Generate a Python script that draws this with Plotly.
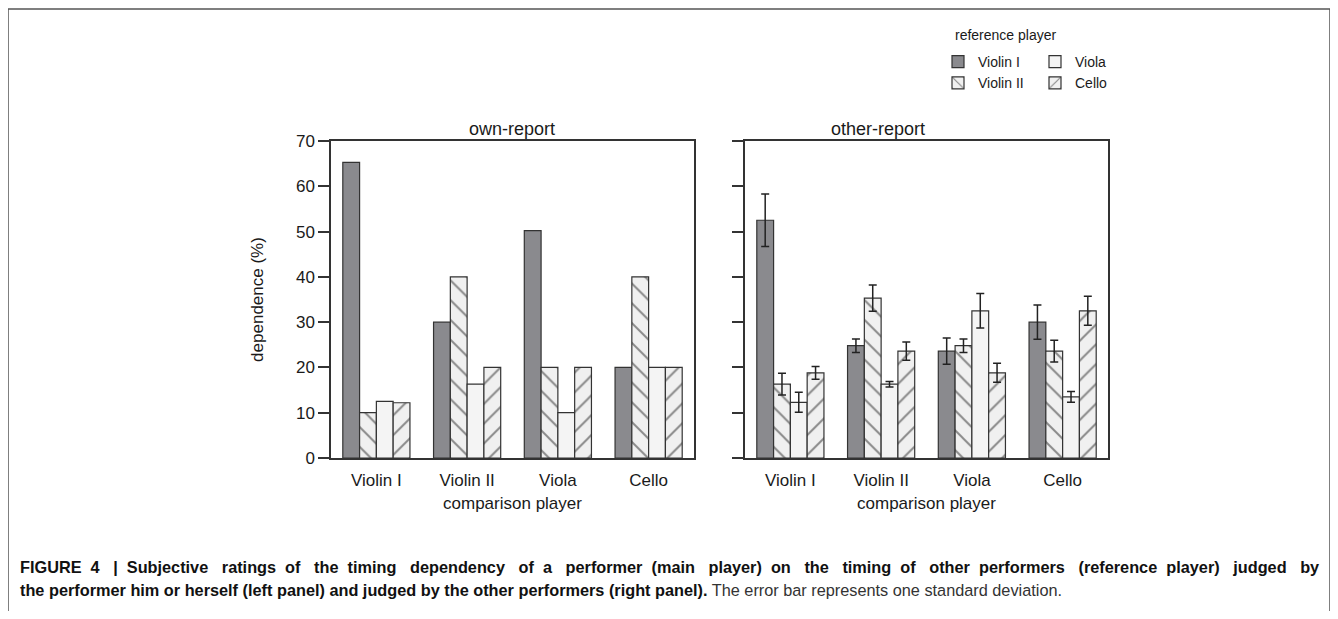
import plotly.graph_objects as go

# comparison players (x categories) and reference players (series)
players = ["Violin I", "Violin II", "Viola", "Cello"]

# own-report, dependence (%) per reference player
own_violin1 = [65.3, 30.0, 50.2, 20.0]
own_violin2 = [10.0, 40.0, 20.0, 40.0]
own_viola = [12.5, 16.3, 10.0, 20.0]
own_cello = [12.2, 20.0, 20.0, 20.0]

# other-report, mean dependence (%) and standard deviation
oth_violin1 = [52.5, 24.8, 23.6, 30.0]
oth_violin2 = [16.3, 35.3, 24.8, 23.6]
oth_viola = [12.3, 16.3, 32.5, 13.5]
oth_cello = [18.8, 23.6, 18.8, 32.5]
sd_violin1 = [5.8, 1.5, 2.9, 3.8]
sd_violin2 = [2.4, 2.9, 1.5, 2.4]
sd_viola = [2.2, 0.6, 3.8, 1.2]
sd_cello = [1.4, 2.0, 2.1, 3.2]

y_ticks = [0, 10, 20, 30, 40, 50, 60, 70]

# page is 1338x619, body margin 8px -> figure sits at (8, 8)
W, H = 1322, 603
OFF = 8
FONT = "Arial, Liberation Sans, sans-serif"
LINE = "#333333"

styles = {
    "Violin I": dict(color="#8a8a8e", pattern=dict(shape="")),
    "Violin II": dict(color="#f0f0f0", pattern=dict(shape="\\", fgcolor="#222222", size=14, solidity=0.14)),
    "Viola": dict(color="#f4f4f4", pattern=dict(shape="")),
    "Cello": dict(color="#f0f0f0", pattern=dict(shape="/", fgcolor="#222222", size=14, solidity=0.14)),
}

own = {"Violin I": own_violin1, "Violin II": own_violin2, "Viola": own_viola, "Cello": own_cello}
oth = {"Violin I": oth_violin1, "Violin II": oth_violin2, "Viola": oth_viola, "Cello": oth_cello}
sds = {"Violin I": sd_violin1, "Violin II": sd_violin2, "Viola": sd_viola, "Cello": sd_cello}
legend_of = {"Violin I": "legend", "Violin II": "legend", "Viola": "legend2", "Cello": "legend2"}


def fx(v):
    # page x pixel -> paper fraction
    return (v - OFF) / W


def fy(v):
    # page y pixel -> paper fraction
    return 1 - (v - OFF) / H


fig = go.Figure()

for name in players:
    st = styles[name]
    fig.add_trace(go.Bar(
        x=players, y=own[name], name=name,
        marker=dict(color=st["color"], pattern=st["pattern"], line=dict(color=LINE, width=1.2)),
        xaxis="x", yaxis="y", legend=legend_of[name], showlegend=True,
    ))

for name in players:
    st = styles[name]
    fig.add_trace(go.Bar(
        x=players, y=oth[name], name=name,
        marker=dict(color=st["color"], pattern=st["pattern"], line=dict(color=LINE, width=1.2)),
        error_y=dict(type="data", array=sds[name], color="#222222", thickness=1.5, width=4),
        xaxis="x2", yaxis="y2", showlegend=False,
    ))

left_dom = [fx(331), fx(694)]
right_dom = [fx(745), fx(1108)]
y_dom = [fy(458), fy(141)]

axis_common = dict(showline=True, linecolor=LINE, linewidth=1.5, mirror=True,
                   showgrid=False, zeroline=False)
xaxis_common = dict(ticks="", tickfont=dict(size=17), ticklabelstandoff=6,
                    title=dict(text="comparison player", font=dict(size=17), standoff=8),
                    **axis_common)

fig.update_layout(
    width=W, height=H,
    margin=dict(l=0, r=0, t=0, b=0, autoexpand=False),
    paper_bgcolor="white", plot_bgcolor="white",
    font=dict(family=FONT, color="#1a1a1a", size=17),
    barmode="group", bargap=0.26, bargroupgap=0,
    xaxis=dict(domain=left_dom, anchor="y", **xaxis_common),
    yaxis=dict(domain=y_dom, anchor="x", range=[0, 70], tickvals=y_ticks, ticks="outside",
               ticklen=11, tickcolor=LINE, tickwidth=1.5, tickfont=dict(size=17),
               title=dict(text="dependence (%)", font=dict(size=17), standoff=28), **axis_common),
    xaxis2=dict(domain=right_dom, anchor="y2", **xaxis_common),
    yaxis2=dict(domain=y_dom, anchor="x2", range=[0, 70], tickvals=y_ticks, ticks="outside",
                ticklen=11, tickcolor=LINE, tickwidth=1.5, showticklabels=False, **axis_common),
    legend=dict(x=fx(938), y=fy(46), xanchor="left", yanchor="top",
                font=dict(size=14), bgcolor="rgba(0,0,0,0)", tracegroupgap=0, itemwidth=30),
    legend2=dict(x=fx(1035), y=fy(46), xanchor="left", yanchor="top",
                 font=dict(size=14), bgcolor="rgba(0,0,0,0)", tracegroupgap=0, itemwidth=30),
    showlegend=True,
)

# legend heading
fig.add_annotation(x=fx(953), y=fy(35), xref="paper", yref="paper", xanchor="left",
                   yanchor="middle", text="reference player", showarrow=False,
                   font=dict(size=14))

# panel titles
for txt, dom in [("own-report", left_dom), ("other-report", right_dom)]:
    fig.add_annotation(x=(dom[0] + dom[1]) / 2, y=fy(129), xref="paper", yref="paper",
                       text=txt, showarrow=False, font=dict(size=18), yanchor="middle")

# outer frame
fig.add_shape(type="rect", xref="paper", yref="paper",
              x0=fx(8), x1=fx(1330), y0=fy(640), y1=fy(9),
              line=dict(color="#555555", width=1.5))

# caption; first line is justified across the full width like the journal layout
CAP = "Arial, Liberation Sans, sans-serif"
line1_words = ("FIGURE 4 | Subjective ratings of the timing dependency of a performer (main player) "
               "on the timing of other performers (reference player) judged by").split(" ")
n_gaps = len(line1_words) - 1
extra = 13
line1 = line1_words[0]
for i, w in enumerate(line1_words[1:]):
    pad = 1 + (1 if (i * extra) // n_gaps != ((i + 1) * extra) // n_gaps else 0)
    line1 += " " + "&nbsp;" * pad + w

fig.add_annotation(
    x=fx(18), y=fy(567), xref="paper", yref="paper", xanchor="left", yanchor="middle",
    showarrow=False, align="left", font=dict(family=CAP, size=16.3, color="#111111"),
    text="<b>" + line1 + "</b>")
fig.add_annotation(
    x=fx(18), y=fy(590), xref="paper", yref="paper", xanchor="left", yanchor="middle",
    showarrow=False, align="left", font=dict(family=CAP, size=16.3, color="#111111"),
    text="<b>the performer him or herself (left panel) and judged by the other performers "
         "(right panel).</b> <span style='color:#333333'>The error bar represents one standard deviation.</span>")

fig.write_html("out.html")
